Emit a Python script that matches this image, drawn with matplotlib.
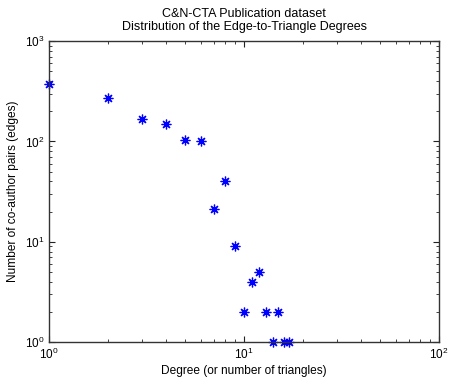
import matplotlib
matplotlib.use('Agg')
import matplotlib.pyplot as plt
from matplotlib.ticker import LogLocator, NullFormatter

plt.rcParams['font.family'] = ['Liberation Sans', 'DejaVu Sans']

# edge-to-triangle degree distribution
degree = [1, 2, 3, 4, 5, 6, 7, 8, 9, 10, 11, 12, 13, 14, 15, 16, 17]
num_pairs = [373, 273, 168, 148, 103, 100, 21, 40, 9, 2, 4, 5, 2, 1, 2, 1, 1]

fig = plt.figure(figsize=(4.49, 3.84), dpi=100)
ax = fig.add_axes([0.109, 0.109, 0.869, 0.784])

ax.loglog(degree, num_pairs, linestyle='none', marker=(8, 2, 0),
          color='blue', markersize=7, markeredgewidth=0.9, clip_on=False)

ax.set_xlim(1, 100)
ax.set_ylim(1, 1000)

ax.xaxis.set_major_locator(LogLocator(base=10))
ax.yaxis.set_major_locator(LogLocator(base=10))
ax.xaxis.set_minor_locator(LogLocator(base=10, subs=range(2, 10)))
ax.yaxis.set_minor_locator(LogLocator(base=10, subs=range(2, 10)))
ax.xaxis.set_minor_formatter(NullFormatter())
ax.yaxis.set_minor_formatter(NullFormatter())

ax.tick_params(which='both', direction='in', top=True, right=True,
               labelsize=8.5, color='#222222')
ax.tick_params(which='major', length=4, width=0.8)
ax.tick_params(which='minor', length=2, width=0.6)
for s in ax.spines.values():
    s.set_linewidth(1.0)
    s.set_color('#333333')

ax.set_xlabel('Degree (or number of triangles)', fontsize=8.6, labelpad=2)
ax.set_ylabel('Number of co-author pairs (edges)', fontsize=8.6, labelpad=4)
ax.set_title('C&N-CTA Publication dataset\nDistribution of the Edge-to-Triangle Degrees',
             fontsize=9, linespacing=1.1, pad=8)

fig.savefig('out.png', dpi=100)
